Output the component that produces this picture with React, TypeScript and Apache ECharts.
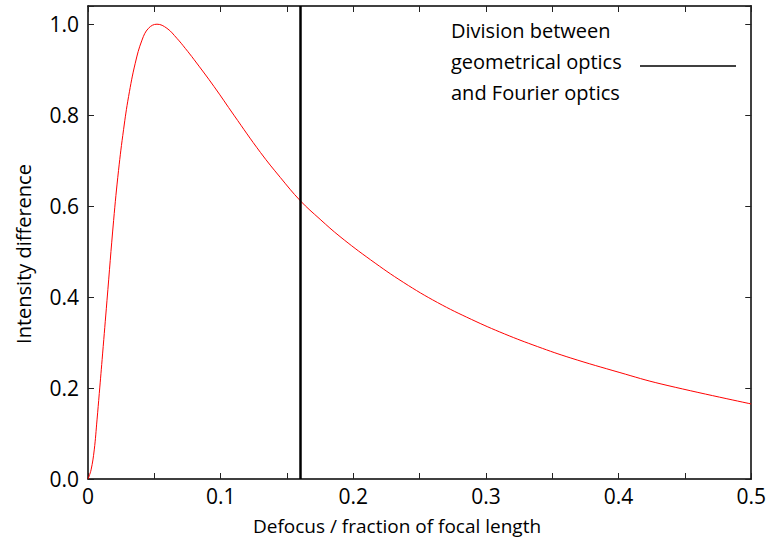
import React, { useEffect, useRef } from "react";
import * as echarts from "echarts";

// Defocus (fraction of focal length) and normalised intensity difference
const defocus = [
  0, 0.0023, 0.0047, 0.0068, 0.0085, 0.011, 0.0143, 0.0193, 0.023, 0.0268,
  0.0306, 0.0356, 0.0407, 0.0456, 0.052, 0.0595, 0.067, 0.0733, 0.08, 0.095,
  0.11, 0.13, 0.145, 0.16, 0.175, 0.19, 0.213, 0.238, 0.2635, 0.289, 0.314,
  0.339, 0.364, 0.401, 0.432, 0.5,
];
const intensity = [
  0, 0.02, 0.064, 0.13, 0.188, 0.275, 0.392, 0.568, 0.678, 0.768,
  0.841, 0.914, 0.965, 0.991, 1.0, 0.991, 0.969, 0.947, 0.922, 0.863,
  0.8, 0.718, 0.663, 0.612, 0.571, 0.533, 0.482, 0.432, 0.388, 0.351, 0.319,
  0.291, 0.266, 0.234, 0.209, 0.165,
];

// Boundary between geometrical and Fourier optics
const divisionDefocus = 0.16;

const xTicks = [0, 0.1, 0.2, 0.3, 0.4, 0.5];
const yTicks = [0, 0.2, 0.4, 0.6, 0.8, 1.0];
const yMax = 1.04;

const legendLines = ["Division between", "geometrical optics", "and Fourier optics"];
const xTitle = "Defocus / fraction of focal length";
const yTitle = "Intensity difference";

const FONT = "'Open Sans', Lato, sans-serif";

export default function App() {
  const ref = useRef<HTMLDivElement>(null);

  useEffect(() => {
    if (!ref.current) return;
    const chart = echarts.init(ref.current, undefined, { renderer: "svg" });

    const tickStyle = { color: "#222", width: 1 };
    const axisLine = { show: true, onZero: false, lineStyle: { color: "#000", width: 1.5 } };
    const xStep = xTicks[1] - xTicks[0];
    const yStep = yTicks[1] - yTicks[0];

    const xBase = {
      type: "value" as const,
      min: xTicks[0],
      max: xTicks[xTicks.length - 1],
      interval: xStep,
      axisLine,
      axisTick: { show: true, inside: true, length: 6, lineStyle: tickStyle },
      minorTick: { show: true, splitNumber: 2, length: 6, lineStyle: tickStyle },
      splitLine: { show: false },
      minorSplitLine: { show: false },
    };
    const yBase = {
      type: "value" as const,
      min: yTicks[0],
      max: yMax,
      interval: yStep,
      axisLine,
      axisTick: { show: true, inside: true, length: 6, lineStyle: tickStyle },
      splitLine: { show: false },
    };

    chart.setOption({
      animation: false,
      backgroundColor: "#fff",
      grid: { left: 88, right: 17, top: 6, bottom: 61, containLabel: false },
      xAxis: [
        {
          ...xBase,
          position: "bottom",
          axisLabel: {
            margin: 6,
            fontFamily: FONT,
            fontSize: 21,
            color: "#000",
            formatter: (v: number) => (v === 0 ? "0" : v.toFixed(1)),
          },
        },
        { ...xBase, position: "top", axisLabel: { show: false } },
      ],
      yAxis: [
        {
          ...yBase,
          position: "left",
          axisLabel: {
            margin: 9,
            fontFamily: FONT,
            fontSize: 21,
            color: "#000",
            formatter: (v: number) => (v > yTicks[yTicks.length - 1] + 1e-6 ? "" : v.toFixed(1)),
          },
        },
        { ...yBase, position: "right", axisLabel: { show: false } },
      ],
      series: [
        {
          type: "line",
          data: defocus.map((x, i) => [x, intensity[i]]),
          smooth: 0.4,
          showSymbol: false,
          symbol: "none",
          lineStyle: { color: "#ff0000", width: 1 },
          silent: true,
          markLine: {
            silent: true,
            symbol: "none",
            label: { show: false },
            lineStyle: { color: "#000", width: 2.5, type: "solid" },
            data: [{ xAxis: divisionDefocus }],
          },
        },
      ],
      graphic: [
        {
          type: "text",
          left: 451,
          top: 15,
          style: {
            text: legendLines.join("\n"),
            font: `20px ${FONT}`,
            lineHeight: 31,
            fill: "#000",
            textAlign: "left",
          },
        },
        {
          type: "line",
          shape: { x1: 640, y1: 66, x2: 736, y2: 66 },
          style: { stroke: "#000", lineWidth: 1.5 },
        },
        {
          type: "text",
          x: 397,
          y: 526,
          style: {
            text: xTitle,
            font: `19px ${FONT}`,
            fill: "#000",
            textAlign: "center",
            textVerticalAlign: "middle",
          },
        },
        {
          type: "text",
          x: 23,
          y: 254,
          rotation: Math.PI / 2,
          style: {
            text: yTitle,
            font: `20px ${FONT}`,
            fill: "#000",
            textAlign: "center",
            textVerticalAlign: "middle",
          },
        },
      ],
    });

    return () => chart.dispose();
  }, []);

  return (
    <div
      ref={ref}
      style={{ position: "fixed", left: 0, top: 0, width: 769, height: 540 }}
    />
  );
}
